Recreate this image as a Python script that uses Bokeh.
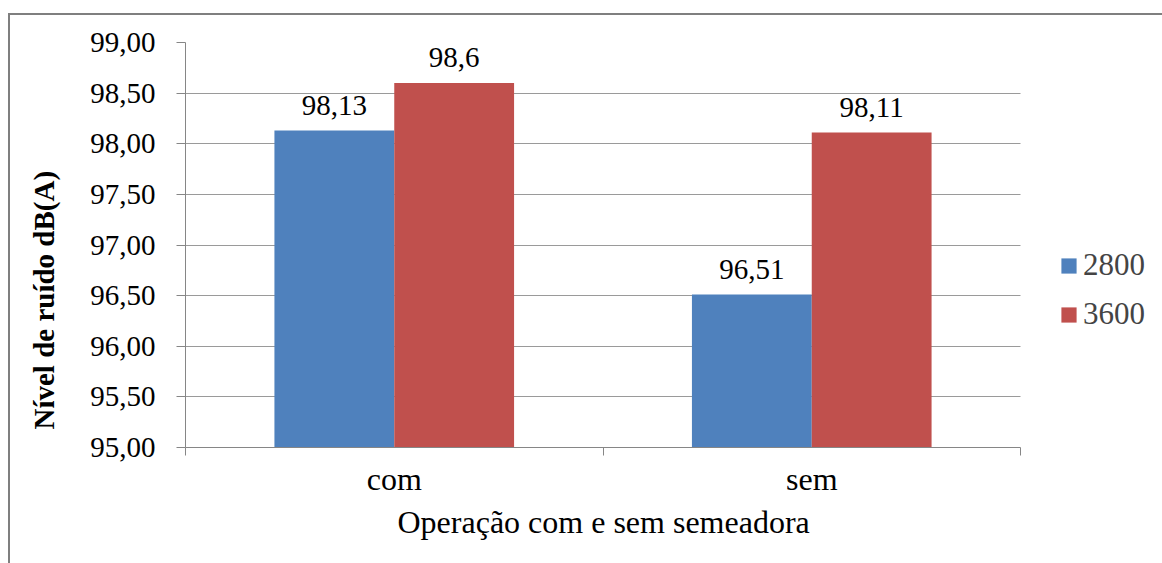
from bokeh.plotting import figure
from bokeh.models import (ColumnDataSource, Range1d, FixedTicker, CustomJSTickFormatter,
                          LabelSet, Legend, LegendItem, Title)
from bokeh.core.properties import value
from bokeh.transform import dodge
from bokeh.embed import file_html
from bokeh.resources import INLINE

# ---- data ----
categories = ["com", "sem"]
series_names = ["2800", "3600"]
values_2800 = [98.13, 96.51]
values_3600 = [98.60, 98.11]
labels_2800 = ["98,13", "96,51"]
labels_3600 = ["98,6", "98,11"]
y_ticks = [95.0, 95.5, 96.0, 96.5, 97.0, 97.5, 98.0, 98.5, 99.0]
y_title = "Nível de ruído dB(A)"
x_title = "Operação com e sem semeadora"

FONT = "Liberation Serif"
BLUE = "#4F81BD"
RED = "#C0504D"
GRID = "#9a9a9a"
AXIS = "#868686"

n = len(categories)
x_centers = [i + 0.5 for i in range(n)]
x_bounds = [float(i) for i in range(n + 1)]

# layout (pixels): plot area of the categories spans 185..1020, the frame runs on to the
# right edge so that the legend can sit inside it
W, H = 1162, 563
FL, FR_DATA, FT, FB = 185, 1020, 42, 447
x_end = n * (W - FL) / (FR_DATA - FL)

src = ColumnDataSource(dict(xc=x_centers, v2800=values_2800, v3600=values_3600,
                            l2800=labels_2800, l3600=labels_3600))

p = figure(width=W, height=H, output_backend="svg", toolbar_location=None,
           x_range=Range1d(0, x_end), y_range=Range1d(95, 99),
           min_border_left=FL, min_border_right=0, min_border_top=FT, min_border_bottom=H - FB)
p.outline_line_color = None
p.background_fill_color = "white"
p.border_fill_color = "white"
p.stylesheets = [
    ":host { position: relative; }",
    ":host::before { content: ''; position: absolute; left: 8px; top: 13px; right: 0; bottom: 0;"
    " border-left: 2px solid #7f7f7f; border-top: 2px solid #7f7f7f;"
    " pointer-events: none; z-index: 5; }",
]

bar_w = 0.287
off = bar_w / 2
r1 = p.vbar(x=dodge("xc", -off, range=p.x_range), top="v2800", bottom=95, width=bar_w,
            source=src, fill_color=BLUE, line_color=None)
r2 = p.vbar(x=dodge("xc", off, range=p.x_range), top="v3600", bottom=95, width=bar_w,
            source=src, fill_color=RED, line_color=None)

for col, lab, d in (("v2800", "l2800", -off), ("v3600", "l3600", off)):
    ls = LabelSet(x=dodge("xc", d, range=p.x_range), y=col, text=lab, source=src,
                  y_offset=16, text_align="center", text_baseline="alphabetic",
                  text_font=value(FONT), text_font_size=value("29px"), text_color="black")
    p.add_layout(ls)

# y axis
yt = FixedTicker(ticks=y_ticks)
p.yaxis.ticker = yt
p.yaxis.formatter = CustomJSTickFormatter(code="return tick.toFixed(2).replace('.', ',');")
p.yaxis.major_label_text_font = FONT
p.yaxis.major_label_text_font_size = "29px"
p.yaxis.major_label_text_color = "black"
p.yaxis.major_tick_out = 9
p.yaxis.major_tick_in = 0
p.yaxis.minor_tick_line_color = None
p.yaxis.major_label_standoff = 21
p.yaxis.axis_line_color = AXIS
p.yaxis.major_tick_line_color = AXIS
p.ygrid.ticker = yt
p.ygrid.grid_line_color = GRID
p.ygrid.cross_bounds = (0, n)
p.xgrid.grid_line_color = None

# x axis
xt = FixedTicker(ticks=x_centers, minor_ticks=x_bounds)
p.xaxis.ticker = xt
p.xaxis.bounds = (0, n)
p.xaxis.major_label_overrides = {x: c for x, c in zip(x_centers, categories)}
p.xaxis.major_label_text_font = FONT
p.xaxis.major_label_text_font_size = "32px"
p.xaxis.major_label_text_color = "black"
p.xaxis.major_tick_out = 0
p.xaxis.major_tick_in = 0
p.xaxis.minor_tick_out = 8
p.xaxis.minor_tick_in = 0
p.xaxis.minor_tick_line_color = AXIS
p.xaxis.axis_line_color = AXIS
p.xaxis.major_label_standoff = 5

# x title below the axis, centred under the category area
p.add_layout(Title(text=x_title, align="left", offset=212, vertical_align="top", standoff=9,
                   text_font=FONT, text_font_size="32px", text_font_style="normal",
                   text_color="black"), "below")

# y title in the left panel, placed like the original
p.add_layout(Title(text=y_title, align="left", offset=18, vertical_align="top", standoff=52,
                   text_font=FONT, text_font_size="29px", text_font_style="bold",
                   text_color="black"), "left")

legend = Legend(items=[LegendItem(label=series_names[0], renderers=[r1]),
                       LegendItem(label=series_names[1], renderers=[r2])],
                location=(874, 115), padding=0, margin=0, spacing=13,
                glyph_width=19, glyph_height=19, label_standoff=5,
                label_text_font=FONT, label_text_font_size="31px",
                border_line_color=None, background_fill_alpha=0)
p.add_layout(legend)

open("out.html", "w").write(file_html(p, INLINE))
